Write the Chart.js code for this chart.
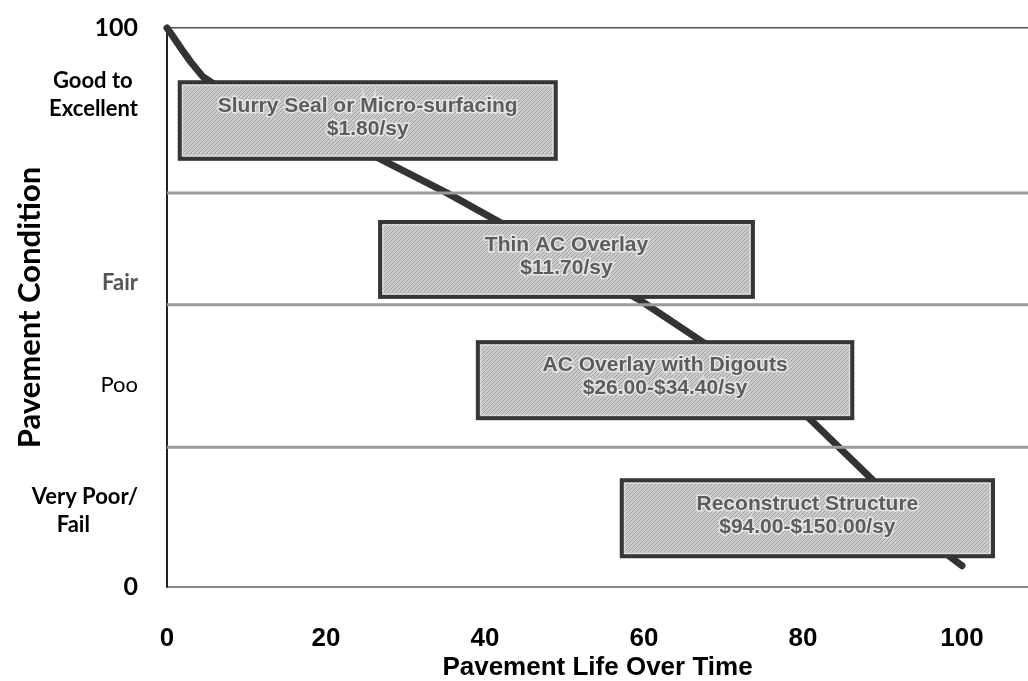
<!DOCTYPE html>
<html>
<head>
<meta charset="utf-8">
<script src="https://cdn.jsdelivr.net/npm/chart.js@4"></script>
<style>
  body { margin: 0; background: #fff; }
</style>
</head>
<body>
<canvas id="chart" width="1028" height="681"></canvas>
<script>
// pavement life (x) vs condition (y)
const lifeX = [0, 0.8, 1.8, 3, 4.5, 6.5, 26.8, 35.2, 59.5, 67.4, 80.6, 88.8, 98.5, 100]
const conditionY = [100, 98.4, 96.3, 93.9, 91.3, 89.4, 76.6, 70.5, 51.3, 43.8, 30.4, 19.1, 5.4, 3.8]
const thresholds = [70.5, 50.5, 25]
const xMax = 108.3
const xTicks = [0, 20, 40, 60, 80, 100]
const yTickValues = [0, 13.6, 36.1, 54.4, 88, 100]
const yTickLabels = ['0', ['Very Poor/', 'Fail         '], 'Poo', 'Fair', ['Good to ', 'Excellent'], '100']

// treatment boxes, in data units
const treatments = [
  ['Slurry Seal or Micro-surfacing', '$1.80/sy'],
  ['Thin AC Overlay', '$11.70/sy'],
  ['AC Overlay with Digouts', '$26.00-$34.40/sy'],
  ['Reconstruct Structure', '$94.00-$150.00/sy']
]
const boxLife = [[1.6, 48.9], [26.8, 73.7], [39.1, 86.2], [57.2, 103.9]]
const boxCondition = [[90.3, 76.6], [65.3, 51.9], [43.8, 30.2], [19.1, 5.5]]

function makeHatch() {
  const c = document.createElement('canvas')
  c.width = 4; c.height = 4
  const g = c.getContext('2d')
  g.fillStyle = '#cbcbcb'
  g.fillRect(0, 0, 4, 4)
  g.fillStyle = '#a2a2a2'
  for (let i = 0; i < 4; i++) g.fillRect(i, 3 - i, 1, 1)
  return g.createPattern(c, 'repeat')
}

const boxPlugin = {
  id: 'treatmentBoxes',
  afterDatasetsDraw(chart) {
    const { ctx, scales: { x, y } } = chart
    const hatch = makeHatch()
    treatments.forEach((lines, i) => {
      const left = x.getPixelForValue(boxLife[i][0])
      const right = x.getPixelForValue(boxLife[i][1])
      const top = y.getPixelForValue(boxCondition[i][0])
      const bottom = y.getPixelForValue(boxCondition[i][1])
      const w = right - left, h = bottom - top
      ctx.save()
      ctx.fillStyle = hatch
      ctx.fillRect(left, top, w, h)
      ctx.lineWidth = 4
      ctx.strokeStyle = '#363636'
      ctx.strokeRect(left, top, w, h)
      ctx.lineWidth = 1
      ctx.strokeStyle = '#e2e2e2'
      ctx.strokeRect(left + 3, top + 3, w - 6, h - 6)
      ctx.font = 'bold 21px "Liberation Sans", Arial, sans-serif'
      ctx.textAlign = 'center'
      ctx.textBaseline = 'middle'
      const cx = left + w / 2, cy = top + h / 2 - 3
      lines.forEach((t, j) => {
        const ty = cy + (j - 0.5) * 23
        ctx.lineWidth = 3
        ctx.strokeStyle = '#e6e6e6'
        ctx.strokeText(t, cx, ty)
        ctx.fillStyle = '#5c5c5c'
        ctx.fillText(t, cx, ty)
      })
      ctx.restore()
    })
  }
}

const datasets = thresholds.map(t => ({
  data: [{ x: 0, y: t }, { x: xMax, y: t }],
  borderColor: '#9a9a9a',
  borderWidth: 3,
  pointRadius: 0
}))
datasets.push({
  data: lifeX.map((v, i) => ({ x: v, y: conditionY[i] })),
  borderColor: '#333',
  borderWidth: 7,
  borderCapStyle: 'round',
  borderJoinStyle: 'round',
  pointRadius: 0,
  clip: false
})

const labelFont = (ctx) => {
  const i = ctx.index
  if (i === 0 || i === 5) return { family: 'Lato', size: 25, weight: 'bold' }
  if (i === 2) return { family: 'Lato', size: 22, weight: 'normal', lineHeight: 1.3 }
  return { family: 'Lato', size: 22, weight: 'bold', lineHeight: 1.3 }
}

new Chart(document.getElementById('chart'), {
  type: 'line',
  data: { datasets },
  plugins: [boxPlugin],
  options: {
    responsive: false,
    animation: false,
    layout: { padding: { top: 28, left: 0, right: 0, bottom: 0 } },
    plugins: { legend: { display: false }, tooltip: { enabled: false } },
    scales: {
      x: {
        type: 'linear',
        min: 0,
        max: xMax,
        afterBuildTicks: s => { s.ticks = xTicks.map(v => ({ value: v })) },
        afterFit: s => { s.height = 94 },
        grid: { display: false },
        border: { color: '#8a8a8a', width: 2 },
        ticks: {
          padding: 28,
          color: '#000',
          font: { family: '"Liberation Sans", Arial', size: 26, weight: 'bold' }
        },
        title: {
          display: true,
          text: 'Pavement Life Over Time',
          color: '#000',
          font: { family: '"Liberation Sans", Arial', size: 26, weight: 'bold', lineHeight: 1 },
          padding: { top: 0, bottom: 0 }
        }
      },
      y: {
        min: 0,
        max: 100,
        afterBuildTicks: s => { s.ticks = yTickValues.map(v => ({ value: v })) },
        afterFit: s => { s.width = 167; s.paddingTop = 0; s.paddingBottom = 0 },
        grid: {
          drawTicks: false,
          color: ctx => ctx.tick && ctx.tick.value === 100 ? '#555' : 'transparent',
          lineWidth: 1.5
        },
        border: { color: '#222', width: 2 },
        ticks: {
          padding: 29,
          color: ctx => ctx.index === 3 ? '#555' : '#000',
          font: labelFont,
          callback: (v, i) => yTickLabels[i]
        },
        title: {
          display: true,
          text: 'Pavement Condition',
          color: '#000',
          font: { family: 'Lato', size: 31, weight: 'bold', lineHeight: 1.2 },
          padding: { top: 11, bottom: 0 }
        }
      }
    }
  }
})
</script>
</body>
</html>
